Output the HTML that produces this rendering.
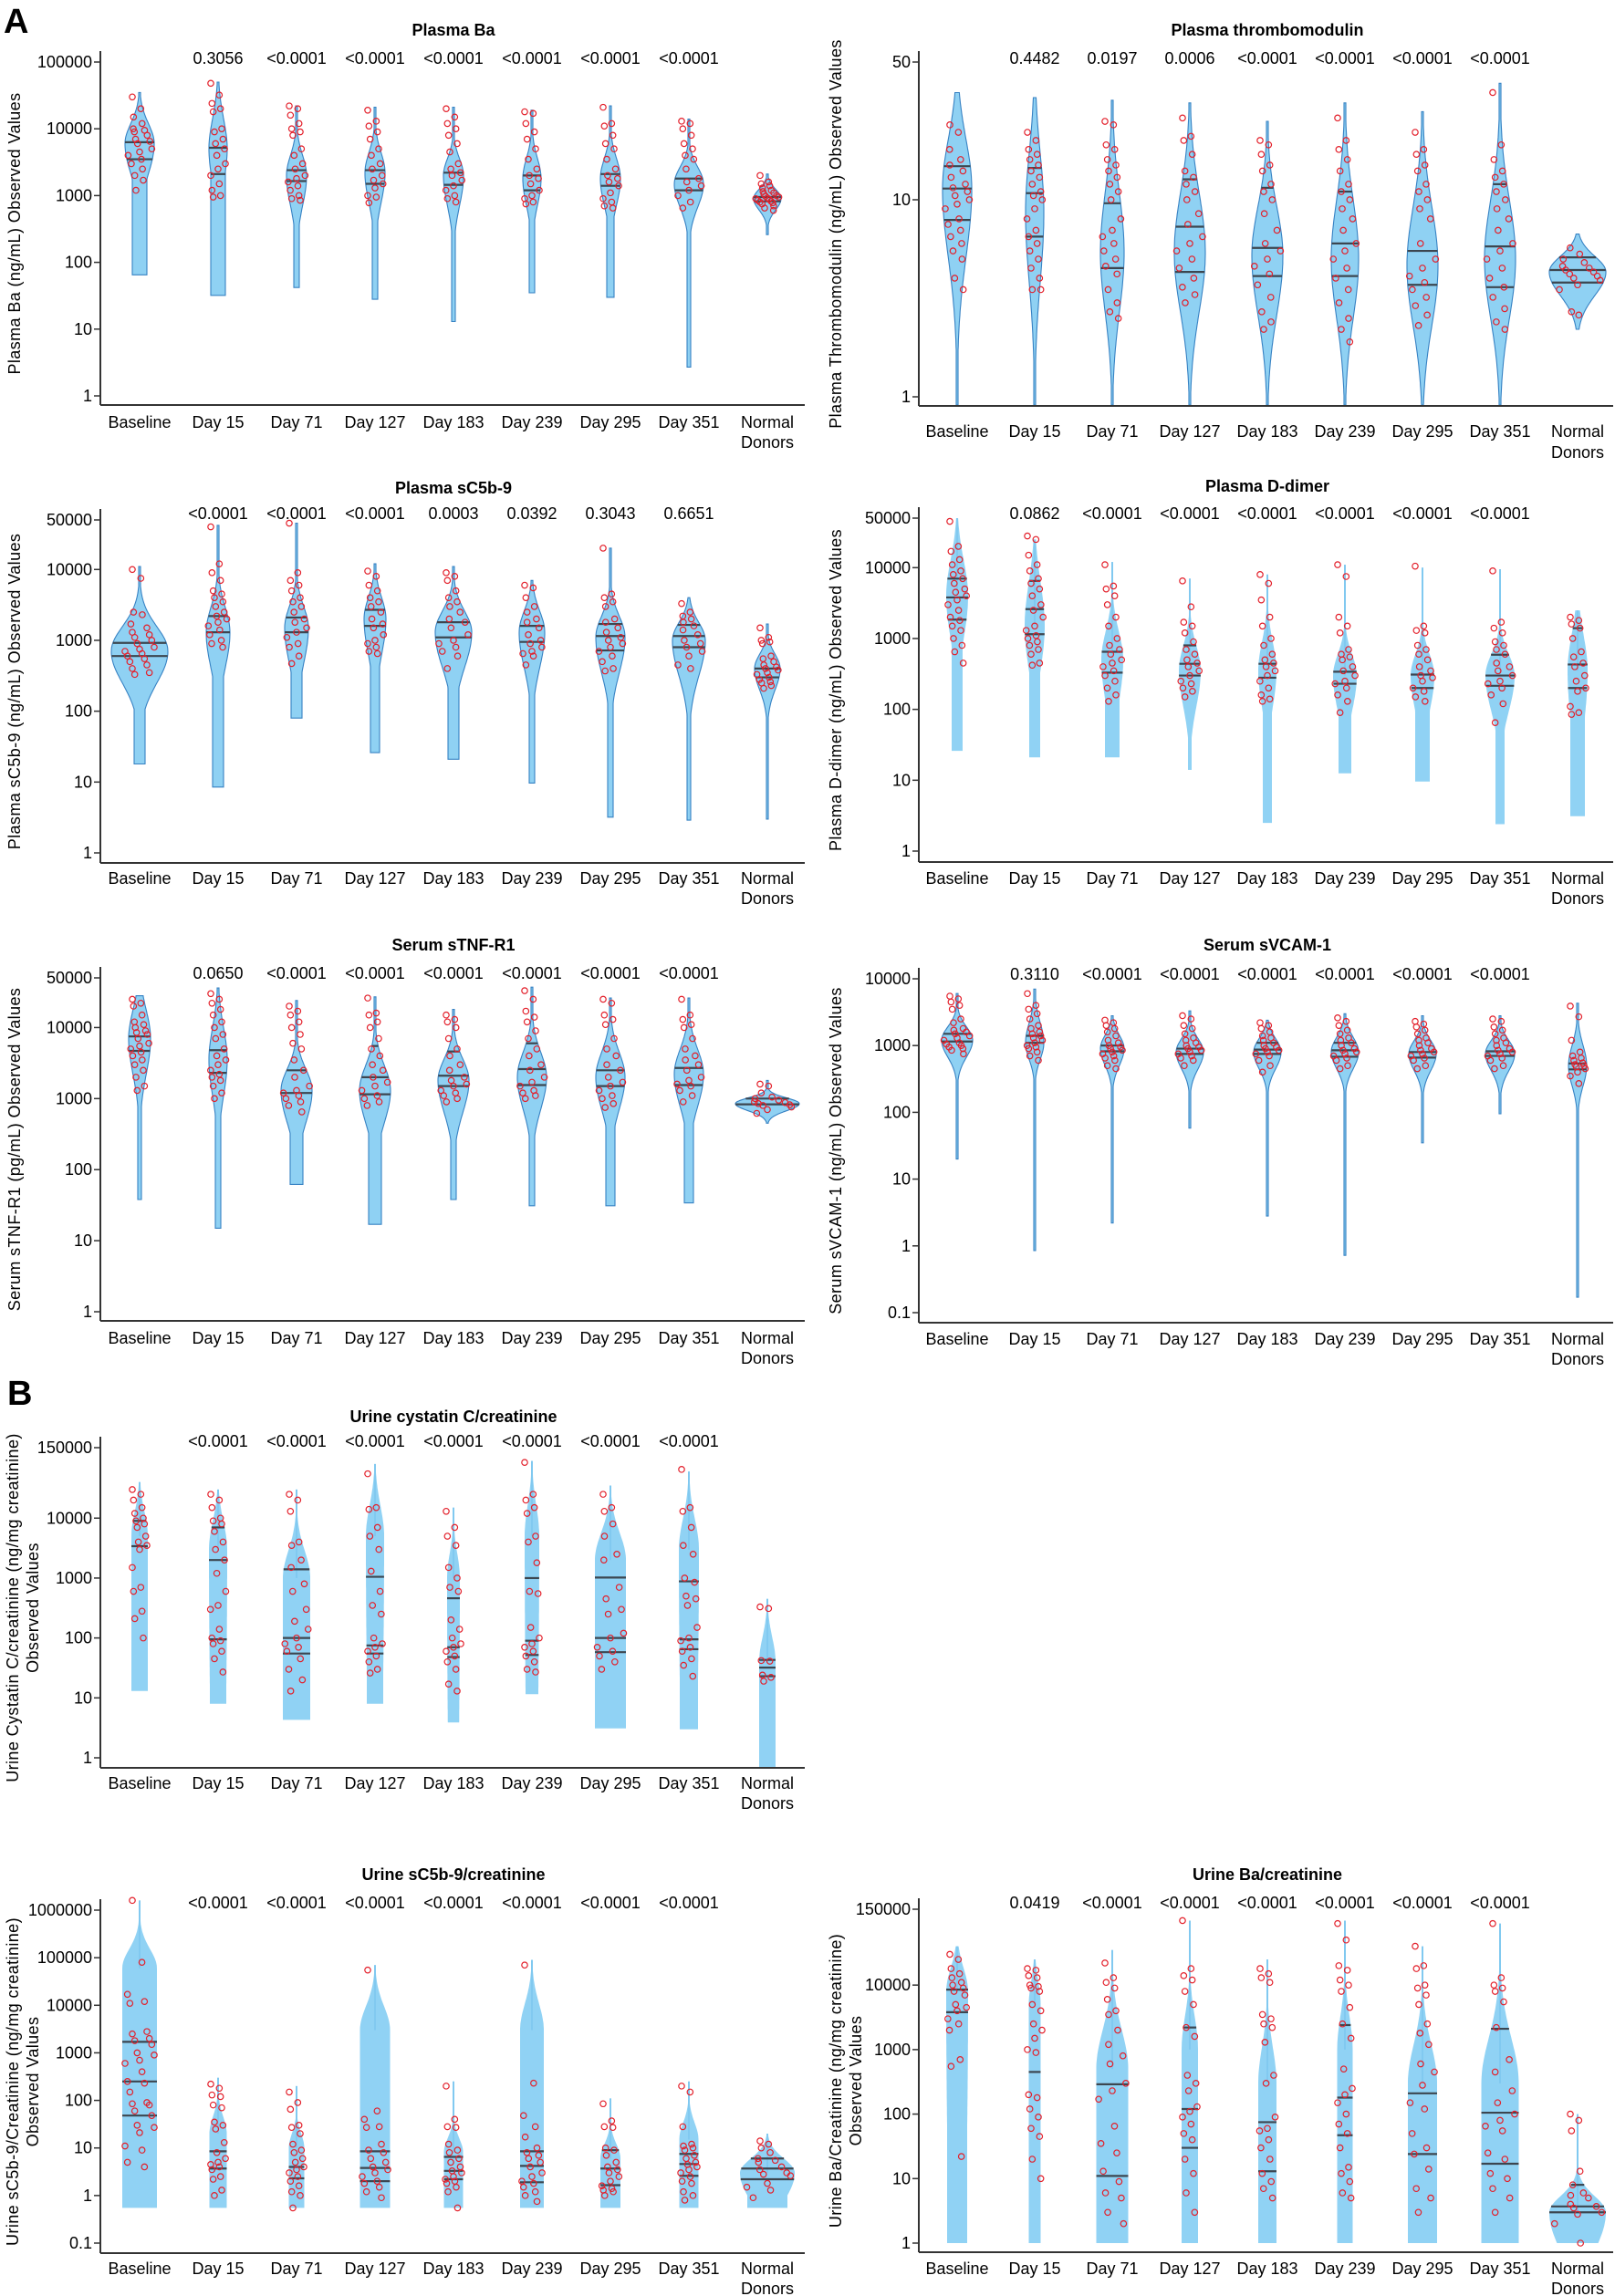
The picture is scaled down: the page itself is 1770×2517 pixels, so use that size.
<!DOCTYPE html>
<html><head><meta charset="utf-8"><title>Biomarker violin plots</title>
<style>
html,body{margin:0;padding:0;background:#fff;}
svg{display:block;font-family:"Liberation Sans",Arial,sans-serif;}
</style></head>
<body>
<svg id="fig" width="1770" height="2517" viewBox="0 0 1770 2517" xmlns="http://www.w3.org/2000/svg">
<rect width="1770" height="2517" fill="#fff"/>
<text x="4" y="36" font-size="38" font-weight="bold">A</text>
<text x="8" y="1540" font-size="38" font-weight="bold">B</text>
</svg>
<script>
const cats = ["Baseline","Day 15","Day 71","Day 127","Day 183","Day 239","Day 295","Day 351","Normal|Donors"];

// ---- Plasma Ba ----
const baP = ["0.3056","<0.0001","<0.0001","<0.0001","<0.0001","<0.0001","<0.0001"];
const baLo = [65,32,42,28,13,35,30,2.7,260];
const baHi = [35000,50000,22000,21000,21000,19000,22000,14000,2100];
const baMode = [6000,5000,2000,2200,2000,1800,1800,1500,900];
const baW = [16,10,11,11,11,10,11,16,15];
const baFloor = [8,8,3,3,2,3,4,2,1];
const baSUp = [.3,.45,.3,.3,.25,.3,.3,.25,.14];
const baSDn = [.45,.5,.45,.45,.45,.4,.4,.35,.17];
const baLines = [[6300,3500],[5200,2100],[2400,1650],[2400,1500],[2200,1450],[2000,1200],[2100,1400],[1800,1200],[950,820]];
const baPts = [
[30000,20000,15000,12000,10000,9500,9000,8000,7000,6500,6000,5000,4500,4000,3500,3000,2500,2000,1700,1200],
[48000,32000,24000,20000,18000,10000,9000,7000,6000,5000,4000,3000,2500,2000,1500,1200,1000,950],
[22000,20000,16000,12000,10000,9000,8000,5000,4000,3000,2500,2000,1800,1600,1400,1200,1000,900,850],
[19000,13000,11000,9000,7000,5000,4000,3000,2500,2000,1700,1500,1300,1000,950,780],
[20000,15000,12000,10000,8000,6000,4500,3000,2500,2200,2000,1700,1400,1200,1000,900,800],
[18000,17000,12000,9000,7000,5000,3500,2500,2000,1800,1500,1200,1000,900,800,750],
[21000,12000,11000,8000,6000,5000,3500,2500,2000,1800,1600,1400,1100,900,800,700,650],
[13000,12000,10000,8000,6000,5000,4000,3500,2500,1800,1600,1400,1200,1000,800,650],
[2000,1600,1500,1400,1300,1200,1150,1100,1050,1000,980,950,920,900,880,850,820,800,780,750,700,650,600]];

// ---- Plasma thrombomodulin ----
const tmP = ["0.4482","0.0197","0.0006","<0.0001","<0.0001","<0.0001","<0.0001"];
const tmLo = [.9,.9,.9,.9,.9,.9,.9,.9,2.2];
const tmHi = [35,33,32,31,25,31,28,39,6.7];
const tmMode = [11.4,8.6,5.4,5.4,5.2,5.0,4.6,5.0,4.3];
const tmW = [16,10,13,17,17,15,17,17,31];
const tmFloor = [1,1,1,1,1,1,1,1,1];
const tmSUp = [.25,.3,.3,.3,.25,.3,.3,.3,.08];
const tmSDn = [.35,.35,.3,.3,.3,.3,.3,.3,.12];
const tmLines = [[14.8,11.4,7.9],[14.5,10.8,6.5],[9.6,4.5],[12.7,7.3,4.3],[11.5,5.7,4.1],[11,6,4.1],[5.5,3.7],[12,5.8,3.6],[5.1,4.4,3.8]];
const tmPts = [
[24,22,18,16,15,14,13,12,11.5,11,10.5,10,9.5,9,8,7.5,7,6.5,6,5.5,5,4,3.5],
[22,20,18,17,16,15,14,13,12,11,10.5,10,9,8,7,6.5,6,5.5,5,4.5,4,3.5,3.5],
[25,24,19,18,16,15,14,13,12,11,10,8,7,6.5,6,5.5,5,4.6,4.2,3.5,3,2.7,2.5],
[26,21,20,17,14,13,12,11,10,8.5,7.5,6.5,6,5.5,5,4.5,4,3.6,3.3,3],
[20,19,17,15,14,12,11,10,8.5,7,6,5.5,5,4.6,4.2,3.7,3.2,2.7,2.4,2.2],
[26,20,18,16,14,12,11,10,9,8,7,6,5.5,5,4.5,4,3.5,3,2.5,2.2,1.9],
[22,18,17,15,14,12,11,10,9,8,6,5,4.5,4.1,3.8,3.5,3.2,2.9,2.6,2.3],
[35,19,16,14,13,12,11,10,9,8,7,6,5.5,5,4.5,4,3.6,3.2,2.8,2.4,2.2],
[5.7,5.3,5.0,4.8,4.6,4.5,4.4,4.3,4.2,4.1,4.0,3.9,3.7,3.5,2.6,2.7]];

// ---- Plasma sC5b-9 ----
const scP = ["<0.0001","<0.0001","<0.0001","0.0003","0.0392","0.3043","0.6651"];
const scLo = [18,8.5,80,26,21,9.7,3.2,2.9,3];
const scHi = [11000,42000,45000,12000,11000,7000,20000,4000,1700];
const scMode = [700,1300,1500,2000,1300,1300,1100,1000,400];
const scW = [31,13,13,12,20,14,16,18,14];
const scFloor = [6,6,6,5,6,3,3,2,1];
const scSUp = [.35,.35,.3,.3,.3,.3,.3,.25,.2];
const scSDn = [.45,.5,.5,.5,.5,.5,.5,.5,.3];
const scLines = [[920,600],[2200,1300],[2100,1300],[2700,1600],[1800,1100],[1600,950],[1700,1150,720],[1650,1150,800],[400,300]];
const scPts = [
[10000,7500,2500,2300,1700,1500,1300,1200,1100,1000,900,800,750,700,650,600,550,500,450,400,350,330],
[40000,12000,9000,7000,5000,4500,4000,3500,3000,2500,2200,2000,1800,1600,1400,1200,1000,900,800],
[45000,9000,7000,6000,5000,4000,3500,3000,2500,2000,1800,1500,1300,1100,900,800,600,470],
[9500,8000,6000,5000,4000,3500,3000,2500,2000,1700,1500,1200,1000,900,800,700,650],
[9000,8000,7000,5000,4000,3500,3000,2500,2000,1800,1500,1200,1000,900,800,700,600,400],
[6000,5500,4000,3000,2500,2000,1800,1500,1200,1000,900,800,700,650,600,450],
[20000,4500,4000,3500,3000,2000,1800,1500,1300,1100,1000,900,800,700,600,500,400,370],
[3300,2500,2200,2000,1800,1600,1400,1200,1000,900,800,700,600,450,400],
[1500,1100,1000,950,900,600,550,500,450,420,400,380,350,330,300,280,260,250,230,210]];

// ---- Plasma D-dimer ----
const ddP = ["0.0862","<0.0001","<0.0001","<0.0001","<0.0001","<0.0001","<0.0001"];
const ddLo = [26,21,21,14,2.5,12.5,9.6,2.4,3.1];
const ddHi = [50000,25000,12000,7000,8000,11000,10000,9500,2500];
const ddMode = [4000,1500,500,350,350,300,300,300,350];
const ddW = [12,11,12,12,10,13,13,16,11];
const ddFloor = [6,6,8,2,5,7,8,5,8];
const ddSUp = [.5,.6,.4,.35,.4,.3,.3,.3,.5];
const ddSDn = [.6,.6,.6,.5,.5,.5,.5,.5,.8];
const ddLines = [[7000,3800,1850],[6500,2600,1150],[650,330],[800,440,300],[440,280],[340,230],[310,200],[590,300,215],[1400,430,200]];
const ddPts = [
[45000,20000,17000,13000,11000,9000,8000,7000,6000,5000,4500,4000,3500,3000,2500,2000,1800,1500,1300,1000,800,650,450],
[28000,25000,15000,11000,9000,7000,6000,5000,4000,3000,2500,2000,1500,1300,1100,1000,900,800,700,600,450,420],
[11000,5500,5000,4000,3000,2000,1500,1000,800,700,600,500,450,400,350,300,250,200,160,130],
[6500,2800,1700,1500,1200,900,700,600,500,450,400,350,300,250,230,200,180,150],
[8000,6000,3500,2000,1500,1000,800,600,500,450,400,350,300,250,200,160,140,130],
[11000,7500,2000,1500,1200,700,600,550,500,400,350,300,250,230,200,160,130,90],
[10500,1500,1300,1200,800,700,600,500,400,350,300,280,250,200,180,150,130],
[9000,1700,1400,1200,900,800,700,600,450,400,350,300,250,230,200,160,120,65],
[2000,1800,1600,1400,1000,650,550,450,400,300,250,200,180,110,90,85]];

// ---- Serum sTNF-R1 ----
const tnP = ["0.0650","<0.0001","<0.0001","<0.0001","<0.0001","<0.0001","<0.0001"];
const tnLo = [38,15,62,17,38,31,31,34,450];
const tnHi = [28000,36000,24000,27000,18000,37000,26000,26000,1800];
const tnMode = [7000,3500,1300,1300,1800,2000,2000,2200,850];
const tnW = [12,10,17,17,17,16,16,16,35];
const tnFloor = [2,3,7,7,3,3,5,5,1];
const tnSUp = [.4,.45,.3,.35,.3,.35,.35,.35,.08];
const tnSDn = [.5,.5,.45,.45,.45,.45,.45,.45,.1];
const tnLines = [[7500,4700],[4800,2300],[2500,1200],[5500,2000,1150],[4600,2100,1500],[6000,2600,1550],[2500,1500],[2700,1550],[1000,830]];
const tnPts = [
[25000,22000,20000,15000,12000,11000,10000,9000,8500,8000,7000,6000,5500,5000,4500,4000,3500,3000,2500,2000,1500,1300],
[30000,25000,22000,18000,15000,12000,10000,8000,7000,5000,4000,3500,3000,2500,2200,2000,1800,1500,1200,1000],
[20000,17000,15000,12000,10000,8000,6000,5000,3500,2500,2000,1500,1300,1200,1100,1000,900,800,650],
[26000,16000,15000,12000,10000,7000,5000,4000,3000,2500,2000,1700,1500,1300,1100,1000,900,800],
[15000,13000,12000,10000,7000,5000,4000,3000,2500,2000,1800,1600,1500,1300,1200,1100,1000,900],
[33000,25000,17000,14000,12000,9000,7000,5000,4000,3000,2500,2000,1700,1500,1300,1200,1100,1000],
[25000,22000,15000,13000,11000,7000,5000,4000,3000,2500,2000,1700,1500,1300,1100,1000,850,750],
[25000,15000,13000,11000,10000,7000,5000,4000,3500,3000,2500,2000,1800,1600,1500,1300,1100,900],
[1600,1500,1200,1050,1000,950,900,880,850,820,800,760,700,620]];

// ---- Serum sVCAM-1 ----
const vcP = ["0.3110","<0.0001","<0.0001","<0.0001","<0.0001","<0.0001","<0.0001"];
const vcLo = [20,.85,2.2,58,2.8,.72,35,95,.17];
const vcHi = [6000,7000,2800,3300,2400,3000,2800,2800,4300];
const vcMode = [1200,1100,900,800,800,800,750,750,500];
const vcW = [17,10,13,15,15,15,15,16,10];
const vcFloor = [1,1,1,1,1,1,1,1,1];
const vcSUp = [.2,.3,.2,.2,.2,.22,.2,.2,.3];
const vcSDn = [.25,.25,.25,.25,.25,.25,.25,.25,.3];
const vcLines = [[1500,1150],[1400,1100],[1000,820],[900,750],[1100,870,750],[1100,850,680],[800,660],[820,700],[540,440]];
const vcPts = [
[5500,5000,4500,4000,3500,2500,2200,1800,1700,1600,1500,1400,1300,1200,1100,1050,1000,950,900,850,750],
[6000,4000,3500,3000,2500,2000,1800,1600,1500,1400,1300,1200,1100,1000,950,900,800,700,600],
[2400,2200,2000,1800,1600,1400,1200,1100,1000,950,900,850,800,750,700,650,600,500,450],
[2800,2500,2000,1800,1500,1300,1200,1100,1000,950,900,850,800,750,700,650,600,500],
[2200,2000,1800,1600,1400,1300,1200,1100,1000,950,900,850,800,750,700,600,500,400],
[2600,2300,2000,1700,1500,1300,1200,1100,1000,900,850,800,750,700,650,600,500,450],
[2300,2100,1900,1700,1500,1300,1200,1100,1000,900,850,800,750,700,650,600,500,450],
[2500,2300,1900,1700,1500,1300,1200,1100,1000,900,850,800,750,700,650,600,500,450],
[3900,2700,1200,800,700,650,600,550,520,500,480,450,400,350,270]];

// ---- Urine cystatin C/creatinine ----
const cyP = ["<0.0001","<0.0001","<0.0001","<0.0001","<0.0001","<0.0001","<0.0001"];
const cyLo = [13,8,4.3,8,3.9,11.5,3.1,3,0.7];
const cyHi = [40000,30000,30000,80000,15000,90000,35000,60000,450];
const cyMode = [5000,3000,1000,5000,1000,5000,2000,3000,40];
const cyW = [9,10,15,10,7,8,17,11,9];
const cyFloor = [9,9,15,9,6,7,17,10,9];
const cySUp = [.4,.45,.45,.5,.4,.5,.45,.5,.4];
const cySDn = [5,5,5,5,5,5,5,5,5];
const cyLines = [[9000,3400],[7000,2000,95],[1400,100,55],[1050,75,55],[460,70,48],[1000,90,52],[1020,100,58],[880,95,65],[43,32,23]];
const cyPts = [
[30000,25000,20000,15000,12000,10000,9000,8000,7000,5000,4000,3500,3000,1500,700,600,280,210,100],
[25000,20000,15000,10000,9000,8000,6000,4000,3000,2000,1200,600,350,300,140,100,90,80,60,45,27],
[25000,20000,13000,4000,3500,2000,1500,800,600,300,190,140,100,80,70,60,45,30,20,13],
[55000,15000,14000,7000,5000,3000,1300,600,350,250,100,80,70,60,50,40,30,26],
[13000,7000,5000,3500,1500,1000,700,600,200,140,100,80,70,60,50,40,30,17,13],
[85000,25000,20000,15000,12000,5000,4000,1800,600,550,150,100,80,70,60,50,40,30,27],
[25000,15000,13000,8000,5000,2500,2000,700,450,300,250,120,100,70,60,50,40,30],
[65000,15000,13000,7000,3500,2500,1000,850,500,450,350,150,100,90,70,60,45,35,23],
[330,310,42,41,24,22,19]];

// ---- Urine sC5b-9/creatinine ----
const usP = ["<0.0001","<0.0001","<0.0001","<0.0001","<0.0001","<0.0001","<0.0001"];
const usLo = [.55,.55,.55,.55,.55,.55,.55,.55,.55];
const usHi = [1600000,300,200,70000,250,90000,110,250,20];
const usMode = [60000,20,10,3000,8,3000,6,15,3];
const usW = [19,9.5,8.5,16.5,10.5,13,11,10.5,30];
const usFloor = [19,9.5,8.5,16.5,10.5,13,11,10.5,22];
const usSUp = [.4,.35,.3,.5,.3,.55,.3,.35,.3];
const usSDn = [5,5,5,5,5,5,5,5,.6];
const usLines = [[1700,250,48],[8.5,3.7],[4,2.3],[8.5,3.8,2],[6.5,3.3,2.2],[8.5,4.2,1.9],[9,3.7,1.65],[7.5,4.6,2.6],[6,3.7,2.2]];
const usPts = [
[1600000,80000,17000,12000,11000,2800,2500,2000,1800,1500,1000,900,700,600,400,250,230,150,90,85,80,60,48,30,27,21,11,9,5,4],
[220,180,130,120,80,70,35,30,25,13,8,6,5,4.5,4,3.5,2.5,2.2,1.3,1],
[150,90,65,30,27,20,12,9,8,6,5,4,3.5,3,2.5,2,1.6,1.2,1,0.55],
[55000,60,40,28,27,12,9,8,6,5,4,3.5,3,2.5,2,1.8,1.5,1.2,0.9],
[200,40,28,27,12,9,8,6,5,4,3.3,3,2.5,2.2,2,1.8,1.5,1.2,0.55],
[70000,230,48,28,17,10,8,7,6,5,4,3,2.5,2,1.8,1.5,1.2,1,0.75],
[85,37,28,27,10,9,7,5,4,3.5,3,2.5,2,1.6,1.4,1.3,1.2,1],
[200,150,28,12,11,10,9,7,6,5,4.5,4,3.5,3,2.5,2,1.8,1.2,1,0.8],
[14,12,10,8,6,5.5,5,4,3.5,3,2.8,2.6,1.8,1.5,1.3,0.9]];

// ---- Urine Ba/creatinine ----
const ubP = ["0.0419","<0.0001","<0.0001","<0.0001","<0.0001","<0.0001","<0.0001"];
const ubLo = [1,1,1,1,1,1,1,1,1];
const ubHi = [40000,25000,35000,100000,25000,100000,40000,90000,100];
const ubMode = [8000,5000,500,1000,300,1000,300,300,3];
const ubW = [12,6.5,17.5,9,10,8.5,16,20.5,31];
const ubFloor = [11,6.5,17.5,9,10,8.5,16,20.5,22];
const ubSUp = [.35,.35,.6,.5,.55,.5,.6,.7,.25];
const ubSDn = [5,5,5,5,5,5,5,5,.6];
const ubLines = [[8500,3800],[450],[290,11],[2200,120,30],[75,13],[2400,180,47],[210,24],[2100,105,17],[8,3.7,3]];
const ubPts = [
[30000,25000,18000,15000,13000,11000,10000,9000,8000,7000,5000,4500,4000,3000,2500,2000,700,550,22],
[18000,17000,14000,13000,10000,9500,9000,8000,5000,4000,2500,2000,1500,1000,900,200,180,120,90,60,45,20,10],
[22000,13000,11000,9000,6000,4000,3500,2000,1200,800,600,300,230,170,65,35,25,13,9,6,5,3,2],
[100000,18000,14000,12000,8000,5000,2200,1600,400,300,230,130,110,90,70,50,40,20,12,6,3],
[18000,15000,13000,11000,3500,3000,2500,2200,1300,400,300,90,60,55,40,30,20,12,9,7,5],
[90000,50000,20000,17000,12000,10000,8000,4500,2500,1500,500,250,200,150,100,70,50,30,15,12,9,6,5],
[40000,20000,18000,10000,9000,7000,5000,2500,1800,1200,600,450,280,150,120,50,30,24,14,7,5,3],
[90000,13000,10000,9000,8000,5500,2200,700,450,230,150,100,80,65,55,25,20,12,10,7,5,3],
[100,80,55,13,8,6,5.5,5,4,3.7,3.5,3,2.8,2,1]];

const NS = "http://www.w3.org/2000/svg";
const svg = document.getElementById("fig");
function mk(tag, parent, attrs) {
  const e = document.createElementNS(NS, tag);
  for (const k in attrs) e.setAttribute(k, attrs[k]);
  parent.appendChild(e);
  return e;
}
const L = {axisX:110, xEnd:882, cx0:153, dx:86, ytX:[16]};
const R = {axisX:1007, xEnd:1768, cx0:1049, dx:85, ytX:[916]};
const panels = [
 {id:"plasma-ba", side:L, title:"Plasma Ba", yt:["Plasma Ba (ng/mL) Observed Values"], ticks:[1,10,100,1000,10000,100000], tickTxt:["1","10","100","1000","10000","100000"], top:100000, topY:68, bot:1, botY:434, axisY:444, titleY:33, pY:64, labY:463, labY2:485, outline:true, d:[baP,baLo,baHi,baMode,baW,baFloor,baSUp,baSDn,baLines,baPts]},
 {id:"plasma-thrombomodulin", side:R, title:"Plasma thrombomodulin", yt:["Plasma Thrombomodulin (ng/mL) Observed Values"], ticks:[1,10,50], tickTxt:["1","10","50"], top:50, topY:68, bot:1, botY:435, axisY:445, titleY:33, pY:64, labY:473, labY2:496, outline:true, d:[tmP,tmLo,tmHi,tmMode,tmW,tmFloor,tmSUp,tmSDn,tmLines,tmPts]},
 {id:"plasma-sc5b9", side:L, title:"Plasma sC5b-9", yt:["Plasma sC5b-9 (ng/mL) Observed Values"], ticks:[1,10,100,1000,10000,50000], tickTxt:["1","10","100","1000","10000","50000"], top:50000, topY:570, bot:1, botY:935, axisY:946, titleY:535, pY:563, labY:963, labY2:985, outline:true, d:[scP,scLo,scHi,scMode,scW,scFloor,scSUp,scSDn,scLines,scPts]},
 {id:"plasma-d-dimer", side:R, title:"Plasma D-dimer", yt:["Plasma D-dimer (ng/mL) Observed Values"], ticks:[1,10,100,1000,10000,50000], tickTxt:["1","10","100","1000","10000","50000"], top:50000, topY:568, bot:1, botY:933, axisY:945, titleY:533, pY:563, labY:963, labY2:985, outline:false, d:[ddP,ddLo,ddHi,ddMode,ddW,ddFloor,ddSUp,ddSDn,ddLines,ddPts]},
 {id:"serum-stnf-r1", side:L, title:"Serum sTNF-R1", yt:["Serum sTNF-R1 (pg/mL) Observed Values"], ticks:[1,10,100,1000,10000,50000], tickTxt:["1","10","100","1000","10000","50000"], top:50000, topY:1072, bot:1, botY:1438, axisY:1448, titleY:1036, pY:1067, labY:1467, labY2:1489, outline:true, d:[tnP,tnLo,tnHi,tnMode,tnW,tnFloor,tnSUp,tnSDn,tnLines,tnPts]},
 {id:"serum-svcam-1", side:R, title:"Serum sVCAM-1", yt:["Serum sVCAM-1 (ng/mL) Observed Values"], ticks:[0.1,1,10,100,1000,10000], tickTxt:["0.1","1","10","100","1000","10000"], top:10000, topY:1073, bot:0.1, botY:1439, axisY:1450, titleY:1036, pY:1068, labY:1468, labY2:1490, outline:true, d:[vcP,vcLo,vcHi,vcMode,vcW,vcFloor,vcSUp,vcSDn,vcLines,vcPts]},
 {id:"urine-cystatin-c", side:L, title:"Urine cystatin C/creatinine", yt:["Urine Cystatin C/creatinine (ng/mg creatinine)","Observed Values"], ticks:[1,10,100,1000,10000,150000], tickTxt:["1","10","100","1000","10000","150000"], top:150000, topY:1587, bot:1, botY:1927, axisY:1938, titleY:1553, pY:1580, labY:1955, labY2:1977, outline:false, d:[cyP,cyLo,cyHi,cyMode,cyW,cyFloor,cySUp,cySDn,cyLines,cyPts]},
 {id:"urine-sc5b9", side:L, title:"Urine sC5b-9/creatinine", yt:["Urine sC5b-9/Creatinine (ng/mg creatinine)","Observed Values"], ticks:[0.1,1,10,100,1000,10000,100000,1000000], tickTxt:["0.1","1","10","100","1000","10000","100000","1000000"], top:1000000, topY:2094, bot:0.1, botY:2459, axisY:2470, titleY:2055, pY:2086, labY:2487, labY2:2509, outline:false, d:[usP,usLo,usHi,usMode,usW,usFloor,usSUp,usSDn,usLines,usPts]},
 {id:"urine-ba", side:R, title:"Urine Ba/creatinine", yt:["Urine Ba/Creatinine (ng/mg creatinine)","Observed Values"], ticks:[1,10,100,1000,10000,150000], tickTxt:["1","10","100","1000","10000","150000"], top:150000, topY:2093, bot:1, botY:2459, axisY:2469, titleY:2055, pY:2086, labY:2487, labY2:2509, outline:false, d:[ubP,ubLo,ubHi,ubMode,ubW,ubFloor,ubSUp,ubSDn,ubLines,ubPts]}
];

function drawPanel(P) {
  const S = P.side;
  const [pv, lo, hi, mode, w, floor, sUp, sDn, lines, pts] = P.d;
  const dec = (P.botY - P.topY) / (Math.log10(P.top) - Math.log10(P.bot));
  const yOf = v => Math.min(P.axisY - 1, P.topY + (Math.log10(P.top) - Math.log10(v)) * dec);
  const cx = i => S.cx0 + S.dx * i;
  const g = mk("g", svg, {});
  
  
  const midX = (S.cx0 + cx(8)) / 2;
  const t = mk("text", g, {x:midX, y:P.titleY, "font-size":18, "font-weight":"bold", "text-anchor":"middle", "dominant-baseline":"central"});
  t.textContent = P.title;
  
  
  const midY = (P.topY + P.axisY) / 2;
  P.yt.forEach((s, k) => {
    const xx = P.yt.length === 1 ? S.ytX[0] : (S === L ? [14, 36][k] : [916, 938][k]);
    const yt = mk("text", g, {x:xx, y:midY, "font-size":18, "text-anchor":"middle", "dominant-baseline":"central", transform:`rotate(-90 ${xx} ${midY})`, "letter-spacing":"0.4"});
    yt.textContent = s;
    
    
  });
  for (let i = 0; i < 9; i++) {
    const lm = Math.log10(mode[i]);
    const hw = l => l >= lm ? Math.max(1, w[i] * Math.exp(-0.5 * Math.pow((l - lm) / sUp[i], 2)))
                           : Math.max(floor[i], w[i] * Math.exp(-0.5 * Math.pow((l - lm) / sDn[i], 2)));
    const l0 = Math.log10(lo[i]), l1 = Math.log10(hi[i]);
    const N = 90, right = [], left = [];
    for (let k = 0; k <= N; k++) {
      const l = l1 - (l1 - l0) * k / N;
      const y = yOf(Math.pow(10, l));
      const h = hw(l);
      right.push((cx(i) + h).toFixed(1) + "," + y.toFixed(1));
      left.unshift((cx(i) - h).toFixed(1) + "," + y.toFixed(1));
    }
    const vp = mk("path", g, {d:"M" + right.join("L") + "L" + left.join("L") + "Z", fill: P.outline ? "#8fd1f3" : "#90d2f4", stroke: P.outline ? "#3782c3" : "none", "stroke-width":1.1});
    
    
    if (!P.outline) {
      const tail = mk("line", g, {x1:cx(i), x2:cx(i), y1:yOf(hi[i]), y2:yOf(mode[i]), stroke:"#7cc6ee", "stroke-width":1.5});
      
      
    }
    lines[i].forEach(v => {
      const h = hw(Math.log10(v));
      const ln = mk("line", g, {x1:cx(i) - h, x2:cx(i) + h, y1:yOf(v), y2:yOf(v), stroke:"#3c4650", "stroke-width":2.2});
      
      
    });
    pts[i].forEach((v, j) => {
      const l = Math.log10(v);
      const spread = i === 8 ? Math.max(hw(l) * 0.85, 8) : Math.min(Math.max(hw(l) * 0.85, 8), 16);
      const f = (((j * 7) % 13) / 12) * 2 - 1;
      const c = mk("circle", g, {cx:cx(i) + f * spread, cy:yOf(v), r:3.2, fill:"none", stroke:"#e3202b", "stroke-width":1.2});
      
      
    });
  }
  const ya = mk("line", g, {x1:S.axisX, x2:S.axisX, y1:P.topY - 12, y2:P.axisY, stroke:"#333", "stroke-width":2});
  
  
  const xa = mk("line", g, {x1:S.axisX, x2:S.xEnd, y1:P.axisY, y2:P.axisY, stroke:"#333", "stroke-width":2});
  
  
  P.ticks.forEach((v, k) => {
    const y = yOf(v);
    const tk = mk("line", g, {x1:S.axisX - 7, x2:S.axisX, y1:y, y2:y, stroke:"#333", "stroke-width":1.5});
    
    
    const tl = mk("text", g, {x:S.axisX - 9, y:y, "font-size":18, "text-anchor":"end", "dominant-baseline":"central"});
    tl.textContent = P.tickTxt[k];
    
    
  });
  pv.forEach((s, k) => {
    const pt = mk("text", g, {x:cx(k + 1), y:P.pY, "font-size":18, "text-anchor":"middle", "dominant-baseline":"central"});
    pt.textContent = s;
    
    
  });
  cats.forEach((s, k) => {
    s.split("|").forEach((part, m) => {
      const ct = mk("text", g, {x:cx(k), y:m ? P.labY2 : P.labY, "font-size":18, "text-anchor":"middle", "dominant-baseline":"central"});
      ct.textContent = part;
      
      
    });
  });
}
panels.forEach(drawPanel);
</script>
</body></html>
